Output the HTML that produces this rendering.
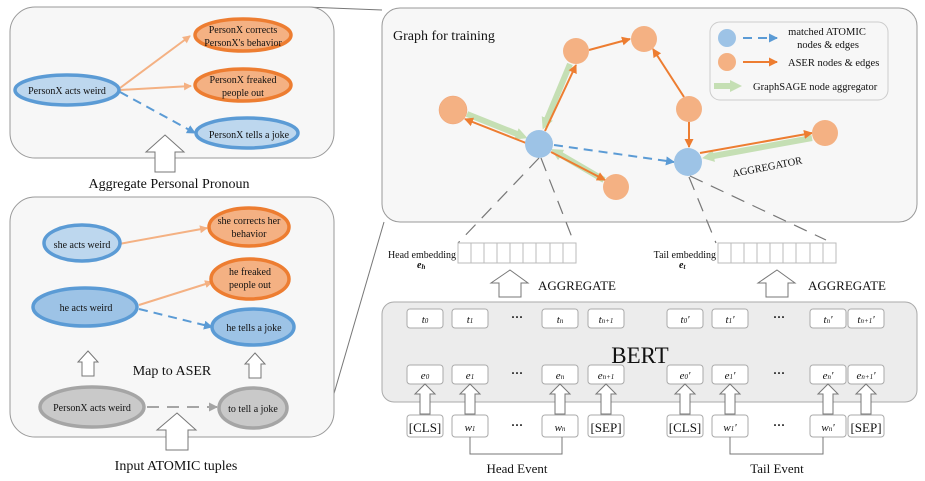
<!DOCTYPE html>
<html><head><meta charset="utf-8"><style>body{margin:0;background:#fff}svg{display:block}text{font-family:"Liberation Serif",serif;fill:#111}</style></head><body>
<svg width="925" height="481" viewBox="0 0 925 481" xmlns="http://www.w3.org/2000/svg">
<defs>
<marker id="lo" markerWidth="8" markerHeight="8" refX="7" refY="4" orient="auto" markerUnits="userSpaceOnUse"><path d="M0,0 L8,4 L0,8 Z" fill="#f4b183"/></marker>
<marker id="o" markerWidth="9" markerHeight="9" refX="8" refY="4.5" orient="auto" markerUnits="userSpaceOnUse"><path d="M0,0 L9,4.5 L0,9 Z" fill="#ed7d31"/></marker>
<marker id="b" markerWidth="9" markerHeight="9" refX="8" refY="4.5" orient="auto" markerUnits="userSpaceOnUse"><path d="M0,0 L9,4.5 L0,9 Z" fill="#5b9bd5"/></marker>
<marker id="g" markerWidth="9" markerHeight="9" refX="8" refY="4.5" orient="auto" markerUnits="userSpaceOnUse"><path d="M0,0 L9,4.5 L0,9 Z" fill="#a5a5a5"/></marker>
<marker id="gr" markerWidth="12" markerHeight="12" refX="6" refY="6" orient="auto" markerUnits="userSpaceOnUse"><path d="M0,0 L12,6 L0,12 Z" fill="#c5dfb4"/></marker>
</defs>
<!-- connector lines -->
<line x1="305" y1="7" x2="382" y2="10" stroke="#777" stroke-width="1"/>
<line x1="333" y1="397" x2="384" y2="222" stroke="#777" stroke-width="1"/>
<!-- top-left panel -->
<rect x="10" y="7" width="324" height="151" rx="25" fill="#f7f7f7" stroke="#999"/>
<line x1="120" y1="88" x2="190" y2="36" stroke="#f4b183" stroke-width="2" marker-end="url(#lo)"/>
<line x1="120" y1="90" x2="191" y2="86" stroke="#f4b183" stroke-width="2" marker-end="url(#lo)"/>
<line x1="120" y1="92" x2="195" y2="133" stroke="#5b9bd5" stroke-width="2" stroke-dasharray="9,6" marker-end="url(#b)"/>
<ellipse cx="67" cy="90" rx="52" ry="15" fill="#bdd7ee" stroke="#5b9bd5" stroke-width="3.5"/>
<ellipse cx="243" cy="35" rx="48" ry="16" fill="#f4b183" stroke="#ed7d31" stroke-width="3.5"/>
<ellipse cx="243" cy="85" rx="48" ry="16" fill="#f4b183" stroke="#ed7d31" stroke-width="3.5"/>
<ellipse cx="247" cy="133" rx="51" ry="15" fill="#bdd7ee" stroke="#5b9bd5" stroke-width="3.5"/>
<g font-size="10" text-anchor="middle">
<text x="67" y="94">PersonX acts weird</text>
<text x="243" y="33">PersonX corrects</text><text x="243" y="46">PersonX's behavior</text>
<text x="243" y="83">PersonX freaked</text><text x="243" y="96">people out</text>
<text x="249" y="138">PersonX tells a joke</text>
</g>
<path d="M165,135 L184,152 L175,152 L175,172 L155,172 L155,152 L146,152 Z" fill="#fff" stroke="#777"/>
<text x="169" y="188" font-size="14" text-anchor="middle">Aggregate Personal Pronoun</text>
<!-- bottom-left panel -->
<rect x="10" y="197" width="324" height="240" rx="25" fill="#f7f7f7" stroke="#999"/>
<line x1="119" y1="244" x2="207" y2="228" stroke="#f4b183" stroke-width="2" marker-end="url(#lo)"/>
<line x1="139" y1="305" x2="212" y2="282" stroke="#f4b183" stroke-width="2" marker-end="url(#lo)"/>
<line x1="139" y1="309" x2="212" y2="327" stroke="#5b9bd5" stroke-width="2" stroke-dasharray="9,6" marker-end="url(#b)"/>
<line x1="147" y1="407" x2="217" y2="407" stroke="#a5a5a5" stroke-width="2" stroke-dasharray="12,8" marker-end="url(#g)"/>
<ellipse cx="82" cy="243" rx="38" ry="18" fill="#bdd7ee" stroke="#5b9bd5" stroke-width="3.5"/>
<ellipse cx="249" cy="227" rx="40" ry="19" fill="#f4b183" stroke="#ed7d31" stroke-width="3.5"/>
<ellipse cx="250" cy="279" rx="39" ry="20" fill="#f4b183" stroke="#ed7d31" stroke-width="3.5"/>
<ellipse cx="85" cy="307" rx="52" ry="19" fill="#9dc3e6" stroke="#5b9bd5" stroke-width="3.5"/>
<ellipse cx="253" cy="327" rx="41" ry="18" fill="#9dc3e6" stroke="#5b9bd5" stroke-width="3.5"/>
<ellipse cx="92" cy="407" rx="52" ry="20" fill="#c9c9c9" stroke="#a5a5a5" stroke-width="3.5"/>
<ellipse cx="253" cy="408" rx="34" ry="20" fill="#c9c9c9" stroke="#a5a5a5" stroke-width="3.5"/>
<g font-size="10" text-anchor="middle">
<text x="82" y="248">she acts weird</text>
<text x="249" y="224">she corrects her</text><text x="249" y="237">behavior</text>
<text x="250" y="275">he freaked</text><text x="250" y="288">people out</text>
<text x="86" y="311">he acts weird</text>
<text x="254" y="331">he tells a joke</text>
<text x="92" y="411">PersonX acts weird</text>
<text x="253" y="412">to tell a joke</text>
</g>
<path d="M88,351 L98,362 L94,362 L94,376 L82,376 L82,362 L78,362 Z" fill="#fff" stroke="#777"/>
<path d="M255,353 L265,364 L261,364 L261,378 L249,378 L249,364 L245,364 Z" fill="#fff" stroke="#777"/>
<text x="172" y="375" font-size="14" text-anchor="middle">Map to ASER</text>
<path d="M177,413 L196,430 L188,430 L188,450 L166,450 L166,430 L157,430 Z" fill="#fff" stroke="#777"/>
<text x="176" y="470" font-size="14" text-anchor="middle">Input ATOMIC tuples</text>
<!-- right graph panel -->
<rect x="382" y="8" width="535" height="214" rx="18" fill="#f7f7f7" stroke="#999"/>
<text x="393" y="40" font-size="14">Graph for training</text>
<rect x="710" y="22" width="178" height="78" rx="10" fill="#f7f7f7" stroke="#ccc"/>
<circle cx="727" cy="38" r="9" fill="#9dc3e6"/>
<line x1="743" y1="38" x2="777" y2="38" stroke="#5b9bd5" stroke-width="2" stroke-dasharray="9,6" marker-end="url(#b)"/>
<circle cx="727" cy="62" r="9" fill="#f4b183"/>
<line x1="743" y1="62" x2="777" y2="62" stroke="#ed7d31" stroke-width="2" marker-end="url(#o)"/>
<line x1="714" y1="86" x2="736" y2="86" stroke="#c5dfb4" stroke-width="6" marker-end="url(#gr)"/>
<g font-size="10.5"><text x="827" y="35" text-anchor="middle">matched ATOMIC</text><text x="828" y="48" text-anchor="middle">nodes &amp; edges</text>
<text x="788" y="66">ASER nodes &amp; edges</text><text x="753" y="90">GraphSAGE node aggregator</text></g>
<!-- green aggregator arrows -->
<line x1="467" y1="114" x2="522" y2="136" stroke="#c5dfb4" stroke-width="6" marker-end="url(#gr)"/>
<line x1="570" y1="64" x2="545" y2="124" stroke="#c5dfb4" stroke-width="6" marker-end="url(#gr)"/>
<line x1="604" y1="180" x2="556" y2="152" stroke="#c5dfb4" stroke-width="6" marker-end="url(#gr)"/>
<line x1="812" y1="138" x2="708" y2="157" stroke="#c5dfb4" stroke-width="6" marker-end="url(#gr)"/>
<!-- orange edges -->
<line x1="526" y1="143" x2="465" y2="119" stroke="#ed7d31" stroke-width="2" marker-end="url(#o)"/>
<line x1="545" y1="131" x2="576" y2="65" stroke="#ed7d31" stroke-width="2" marker-end="url(#o)"/>
<line x1="589" y1="50" x2="630" y2="39" stroke="#ed7d31" stroke-width="2" marker-end="url(#o)"/>
<line x1="684" y1="97" x2="653" y2="49" stroke="#ed7d31" stroke-width="2" marker-end="url(#o)"/>
<line x1="689" y1="122" x2="689" y2="147" stroke="#ed7d31" stroke-width="2" marker-end="url(#o)"/>
<line x1="700" y1="153" x2="812" y2="133" stroke="#ed7d31" stroke-width="2" marker-end="url(#o)"/>
<line x1="551" y1="152" x2="605" y2="180" stroke="#ed7d31" stroke-width="2" marker-end="url(#o)"/>
<line x1="554" y1="145" x2="674" y2="162" stroke="#5b9bd5" stroke-width="2" stroke-dasharray="9,6" marker-end="url(#b)"/>
<circle cx="453" cy="110" r="14" fill="#f4b183" stroke="#f0a070" stroke-width="0.5"/>
<circle cx="576" cy="51" r="13" fill="#f4b183"/>
<circle cx="644" cy="39" r="13" fill="#f4b183"/>
<circle cx="689" cy="109" r="13" fill="#f4b183"/>
<circle cx="825" cy="133" r="13" fill="#f4b183"/>
<circle cx="616" cy="187" r="13" fill="#f4b183"/>
<circle cx="539" cy="144" r="14" fill="#9dc3e6"/>
<circle cx="688" cy="162" r="14" fill="#9dc3e6"/>
<text x="0" y="0" font-size="10.5" transform="translate(733,177) rotate(-11)">AGGREGATOR</text>
<!-- dashed projection lines -->
<g stroke="#777" stroke-width="1.2" stroke-dasharray="14,9" fill="none">
<line x1="539" y1="158" x2="458" y2="243"/><line x1="541" y1="158" x2="573" y2="240"/>
<line x1="689" y1="177" x2="716" y2="243"/><line x1="690" y1="176" x2="826" y2="240"/>
</g>
<!-- embeddings -->
<g fill="#fff" stroke="#bbb">
<rect x="458" y="243" width="118" height="20"/>
<rect x="718" y="243" width="118" height="20"/>
</g>
<g stroke="#bbb">
<line x1="471" y1="243" x2="471" y2="263"/><line x1="484" y1="243" x2="484" y2="263"/><line x1="497" y1="243" x2="497" y2="263"/><line x1="510" y1="243" x2="510" y2="263"/><line x1="523" y1="243" x2="523" y2="263"/><line x1="536" y1="243" x2="536" y2="263"/><line x1="550" y1="243" x2="550" y2="263"/><line x1="563" y1="243" x2="563" y2="263"/>
<line x1="731" y1="243" x2="731" y2="263"/><line x1="744" y1="243" x2="744" y2="263"/><line x1="757" y1="243" x2="757" y2="263"/><line x1="770" y1="243" x2="770" y2="263"/><line x1="783" y1="243" x2="783" y2="263"/><line x1="796" y1="243" x2="796" y2="263"/><line x1="810" y1="243" x2="810" y2="263"/><line x1="823" y1="243" x2="823" y2="263"/>
</g>
<text x="456" y="258" font-size="10" text-anchor="end">Head embedding</text>
<text x="417" y="268" font-size="10" font-weight="bold" font-style="italic">e<tspan font-size="7" dy="1">h</tspan></text>
<text x="716" y="258" font-size="10" text-anchor="end">Tail embedding</text>
<text x="679" y="268" font-size="10" font-weight="bold" font-style="italic">e<tspan font-size="7" dy="1">t</tspan></text>
<path d="M510,270 L528,283 L521,283 L521,297 L499,297 L499,283 L491,283 Z" fill="#fff" stroke="#777"/>
<text x="538" y="290" font-size="13">AGGREGATE</text>
<path d="M777,270 L795,283 L788,283 L788,297 L766,297 L766,283 L758,283 Z" fill="#fff" stroke="#777"/>
<text x="808" y="290" font-size="13">AGGREGATE</text>
<!-- BERT -->
<rect x="382" y="302" width="535" height="100" rx="12" fill="#ececec" stroke="#aaa"/>
<text x="640" y="363" font-size="23" text-anchor="middle">BERT</text>
<g fill="#fff" stroke="#aaa">
<rect x="407" y="309" width="36" height="19" rx="3"/><rect x="452" y="309" width="36" height="19" rx="3"/><rect x="542" y="309" width="36" height="19" rx="3"/><rect x="588" y="309" width="36" height="19" rx="3"/>
<rect x="667" y="309" width="36" height="19" rx="3"/><rect x="712" y="309" width="36" height="19" rx="3"/><rect x="810" y="309" width="36" height="19" rx="3"/><rect x="848" y="309" width="36" height="19" rx="3"/>
<rect x="407" y="365" width="36" height="19" rx="3"/><rect x="452" y="365" width="36" height="19" rx="3"/><rect x="542" y="365" width="36" height="19" rx="3"/><rect x="588" y="365" width="36" height="19" rx="3"/>
<rect x="667" y="365" width="36" height="19" rx="3"/><rect x="712" y="365" width="36" height="19" rx="3"/><rect x="810" y="365" width="36" height="19" rx="3"/><rect x="848" y="365" width="36" height="19" rx="3"/>
<rect x="407" y="415" width="36" height="22" rx="3"/><rect x="452" y="415" width="36" height="22" rx="3"/><rect x="542" y="415" width="36" height="22" rx="3"/><rect x="588" y="415" width="36" height="22" rx="3"/>
<rect x="667" y="415" width="36" height="22" rx="3"/><rect x="712" y="415" width="36" height="22" rx="3"/><rect x="810" y="415" width="36" height="22" rx="3"/><rect x="848" y="415" width="36" height="22" rx="3"/>
</g>
<g fill="#fff" stroke="#777">
<path d="M425,384 L435,394 L430,394 L430,414 L420,414 L420,394 L415,394 Z"/>
<path d="M470,384 L480,394 L475,394 L475,414 L465,414 L465,394 L460,394 Z"/>
<path d="M560,384 L570,394 L565,394 L565,414 L555,414 L555,394 L550,394 Z"/>
<path d="M606,384 L616,394 L611,394 L611,414 L601,414 L601,394 L596,394 Z"/>
<path d="M685,384 L695,394 L690,394 L690,414 L680,414 L680,394 L675,394 Z"/>
<path d="M730,384 L740,394 L735,394 L735,414 L725,414 L725,394 L720,394 Z"/>
<path d="M828,384 L838,394 L833,394 L833,414 L823,414 L823,394 L818,394 Z"/>
<path d="M866,384 L876,394 L871,394 L871,414 L861,414 L861,394 L856,394 Z"/>
</g>
<g font-size="11" font-style="italic" text-anchor="middle">
<text x="425" y="323">t<tspan font-size="7">0</tspan></text><text x="470" y="323">t<tspan font-size="7">1</tspan></text><text x="560" y="323">t<tspan font-size="7">n</tspan></text><text x="606" y="323">t<tspan font-size="7">n+1</tspan></text>
<text x="685" y="323">t<tspan font-size="7">0</tspan>'</text><text x="730" y="323">t<tspan font-size="7">1</tspan>'</text><text x="828" y="323">t<tspan font-size="7">n</tspan>'</text><text x="866" y="323">t<tspan font-size="7">n+1</tspan>'</text>
<text x="425" y="379">e<tspan font-size="7">0</tspan></text><text x="470" y="379">e<tspan font-size="7">1</tspan></text><text x="560" y="379">e<tspan font-size="7">n</tspan></text><text x="606" y="379">e<tspan font-size="7">n+1</tspan></text>
<text x="685" y="379">e<tspan font-size="7">0</tspan>'</text><text x="730" y="379">e<tspan font-size="7">1</tspan>'</text><text x="828" y="379">e<tspan font-size="7">n</tspan>'</text><text x="866" y="379">e<tspan font-size="7">n+1</tspan>'</text>
<text x="470" y="431">w<tspan font-size="7">1</tspan></text><text x="560" y="431">w<tspan font-size="7">n</tspan></text>
<text x="730" y="431">w<tspan font-size="7">1</tspan>'</text><text x="828" y="431">w<tspan font-size="7">n</tspan>'</text>
</g>
<g font-size="13" text-anchor="middle">
<text x="425" y="432">[CLS]</text><text x="606" y="432">[SEP]</text><text x="685" y="432">[CLS]</text><text x="866" y="432">[SEP]</text>
</g>
<g font-size="12" text-anchor="middle" font-weight="bold">
<text x="517" y="321">···</text><text x="779" y="321">···</text>
<text x="517" y="377">···</text><text x="779" y="377">···</text>
<text x="517" y="429">···</text><text x="779" y="429">···</text>
</g>
<path d="M470,437 L470,454 L562,454 L562,437" fill="none" stroke="#777"/>
<path d="M730,437 L730,454 L823,454 L823,437" fill="none" stroke="#777"/>
<text x="517" y="473" font-size="13" text-anchor="middle">Head Event</text>
<text x="777" y="473" font-size="13" text-anchor="middle">Tail Event</text>
</svg>
</body></html>
